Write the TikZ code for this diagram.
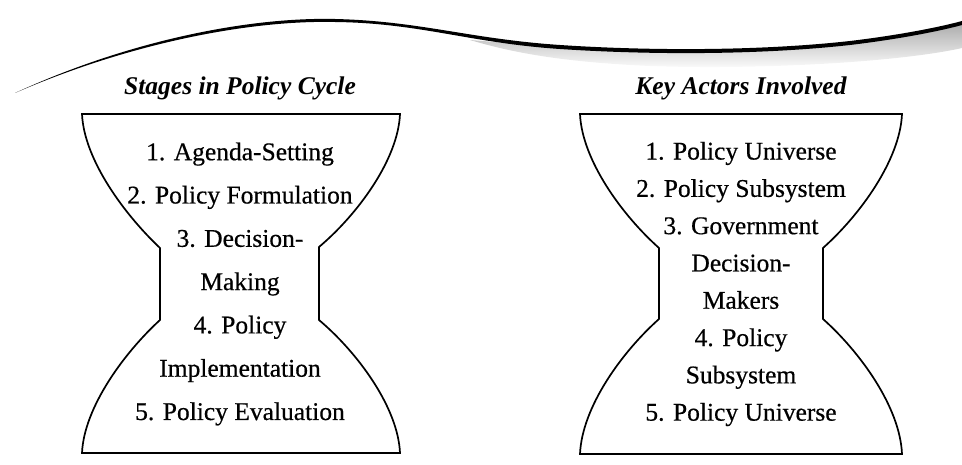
\documentclass[tikz,border=0pt]{standalone}
\usepackage{fontspec}
\setmainfont{Liberation Serif}
\newfontfamily\itemfont{Liberation Serif}[FakeBold=0.5]
\usetikzlibrary{fadings}
\tikzfading[name=fadedown, top color=transparent!45, bottom color=transparent!100]
\tikzset{
  glass/.style={draw=black, line width=1.7pt, line join=miter, fill=white},
  items/.style={align=center, font=\itemfont\fontsize{25.5}{#1}\selectfont, inner sep=0pt},
  head/.style={font=\fontsize{25.5}{28}\selectfont\bfseries\itshape, inner sep=0pt, anchor=base},
}
\begin{document}
\begin{tikzpicture}[x=1pt,y=-1pt]
\useasboundingbox (0,0) rectangle (962,465);
% swoosh shading
\fill[black!60, path fading=fadedown]
  (470,40) .. controls (520,44) and (540,46) .. (560,47)
  .. controls (650,53) and (760,53) .. (850,43)
  .. controls (900,37) and (940,29) .. (962,23)
  -- (962,48) .. controls (900,62) and (760,70) .. (650,66)
  .. controls (560,62) and (510,52) .. (470,40) -- cycle;
% swoosh line (tapered)
\fill[black]
  (15,93) .. controls (130,40) and (250,17) .. (335,19)
  .. controls (420,21) and (470,39) .. (560,45)
  .. controls (650,51) and (760,51) .. (850,41)
  .. controls (900,35) and (940,27) .. (962,21)
  -- (962,25)
  .. controls (940,31) and (900,39) .. (850,45)
  .. controls (760,55) and (650,55) .. (560,49)
  .. controls (470,43) and (420,23) .. (335,22)
  .. controls (250,20) and (130,43) .. (15,93) -- cycle;
% titles
\node[head] (t1) at (240,95) {Stages in Policy Cycle};
\node[head] (t2) at (741,95) {Key Actors Involved};
% left hourglass
\draw[glass] (82,114) -- (400,114) .. controls (398,160) and (357,215) .. (319,247)
  -- (319,320) .. controls (357,352) and (398,407) .. (400,453)
  -- (82,453) .. controls (84,407) and (125,352) .. (160,320)
  -- (160,248) .. controls (125,215) and (84,160) .. (82,114) -- cycle;
% right hourglass
\draw[glass] (580,114) -- (902,114) .. controls (900,160) and (860,215) .. (823,248)
  -- (823,319) .. controls (860,352) and (900,407) .. (902,454)
  -- (580,454) .. controls (582,407) and (622,352) .. (659,319)
  -- (659,248) .. controls (622,215) and (582,160) .. (580,114) -- cycle;
% texts
\node[items=43.3] (s) at (240,284) {1. Agenda-Setting\\2. Policy Formulation\\3. Decision-\\Making\\4. Policy\\Implementation\\5. Policy Evaluation};
\node[items=37.3] (a) at (741,284) {1. Policy Universe\\2. Policy Subsystem\\3. Government\\Decision-\\Makers\\4. Policy\\Subsystem\\5. Policy Universe};
\end{tikzpicture}
\end{document}
